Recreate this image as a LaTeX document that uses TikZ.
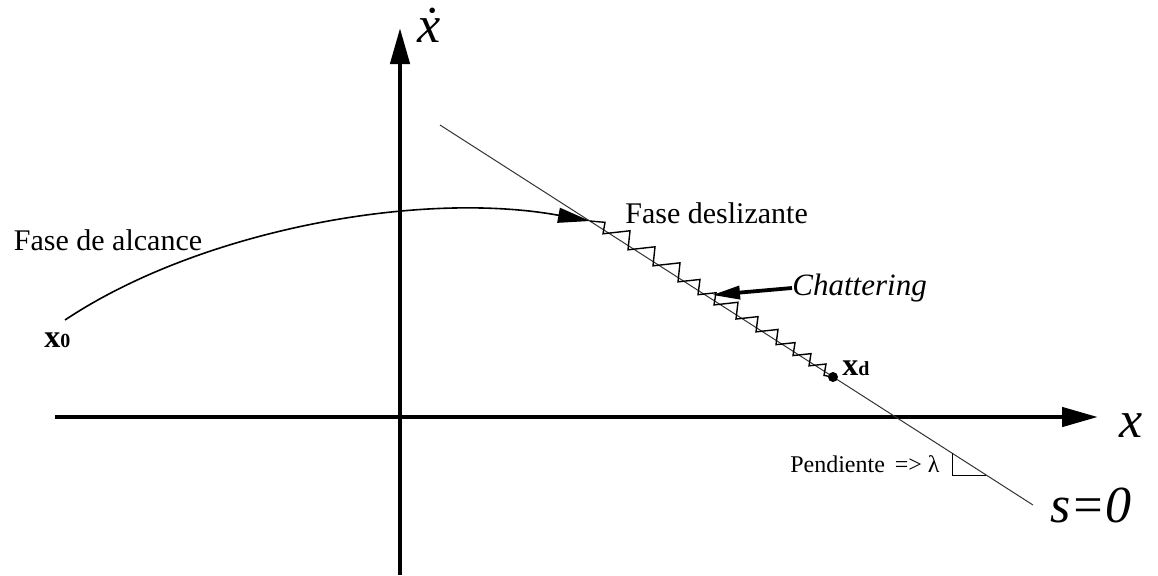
\documentclass[tikz,border=0pt]{standalone}
\usepackage{fontspec}
\setmainfont{Liberation Serif}
\usetikzlibrary{arrows.meta}
\tikzset{
  axis/.style={line width=2.3pt,-{Triangle[length=18pt,width=9.5pt]}},
  thinline/.style={line width=0.5pt,black!80},
  traj/.style={line width=0.8pt,-{Triangle[length=16pt,width=7.5pt]}},
  zig/.style={line width=0.7pt,line join=miter},
  chatarrow/.style={line width=1.9pt,-{Triangle[length=14pt,width=6.5pt]}},
  lbl/.style={inner sep=0pt,font=\fontsize{15}{18}\selectfont},
  biglbl/.style={inner sep=0pt,font=\fontsize{25}{30}\selectfont\itshape},
}
\begin{document}
\begin{tikzpicture}[x=0.5pt,y=-0.5pt]
\useasboundingbox (0,0) rectangle (1158,575);
% axes
\coordinate (xs) at (55,417);
\coordinate (xe) at (1098,417);
\coordinate (ys) at (400,575);
\coordinate (ye) at (400,28);
\draw[axis] (xs) -- (xe);
\draw[axis] (ys) -- (ye);
\node[biglbl,font=\fontsize{26}{30}\selectfont\itshape] (xdotlbl) at (429,25) {\.{x}};
\node[biglbl,font=\fontsize{26}{30}\selectfont\itshape] (xlbl) at (1131,426) {x};
% sliding surface
\coordinate (ls) at (440,125);
\coordinate (le) at (1033,505);
\draw[thinline] (ls) -- (le);
\node[biglbl,anchor=west,font=\fontsize{26}{30}\selectfont\itshape] (s0) at (1050,505) {s=0};
% slope triangle
\coordinate (ta) at (952,453.2);
\coordinate (tb) at (952,475);
\coordinate (tc) at (986,475);
\draw[line width=0.5pt] (ta) -- (tb) -- (tc);
\node[inner sep=0pt,anchor=east,font=\fontsize{12}{14}\selectfont] (pend) at (940,464) {Pendiente\, => λ};
% reaching phase
\coordinate (x0) at (65,320);
\coordinate (hit) at (590,221);
\draw[traj] (x0) .. controls (200,230) and (420,190) .. (hit);
\node[lbl] (fa) at (108,240) {Fase de alcance};
\node[lbl,font=\fontsize{16}{18}\selectfont\bfseries,anchor=north west] (x0lbl) at (44,332) {x{\fontsize{10}{12}\selectfont 0}};
% sliding phase
\node[lbl,anchor=west] (fd) at (625,213) {Fase deslizante};
\coordinate (xd) at (833,377);
\draw[zig] (hit)
  \foreach \xa/\xb in {590/605, 605/630, 630/655, 655/680, 680/700, 700/716, 716/738, 738/758, 758/778, 778/795, 795/811, 811/826}
  { -- (\xb,{125+0.641*(\xa-440)+3-0.12*(\xb-\xa)}) -- ({\xb-2},{125+0.641*(\xb-440)+3}) } -- (xd);
\fill (xd) circle[radius=5];
\node[lbl,font=\fontsize{16}{18}\selectfont\bfseries,anchor=west] (xdlbl) at (842,368) {x{\fontsize{10}{12}\selectfont d}};
% chattering
\node[lbl,anchor=west,font=\fontsize{15.5}{18}\selectfont\itshape] (chat) at (792,288) {Chattering};
\coordinate (ctip) at (712,295);
\draw[chatarrow] (chat.west) -- (ctip);
\end{tikzpicture}
\end{document}
